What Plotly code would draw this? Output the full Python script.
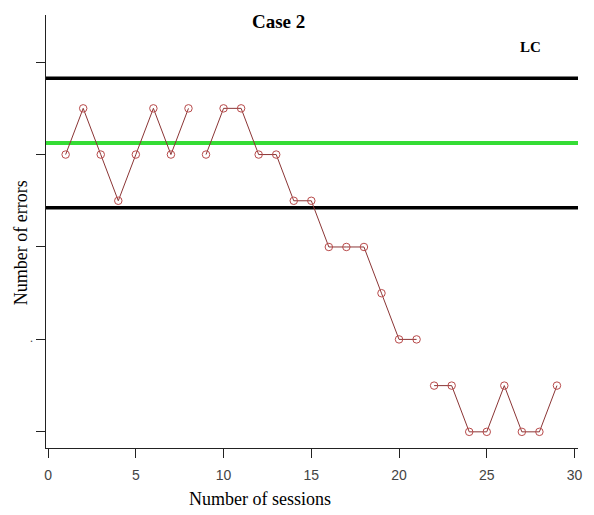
import plotly.graph_objects as go

# Data (None breaks the line between phases)
sessions = [1, 2, 3, 4, 5, 6, 7, 8, None, 9, 10, 11, 12, 13, 14, 15, 16, 17, 18, 19, 20, 21, None,
            22, 23, 24, 25, 26, 27, 28, 29]
errors = [6, 7, 6, 5, 6, 7, 6, 7, None, 6, 7, 7, 6, 6, 5, 5, 4, 4, 4, 3, 2, 2, None,
          1, 1, 0, 0, 1, 0, 0, 1]
upper_limit = 7.65
center_line = 6.25
lower_limit = 4.85
x_ticks = [0, 5, 10, 15, 20, 25, 30]
y_ticks = [0, 2, 4, 6, 8]

serif = "Liberation Serif"

fig = go.Figure()
fig.add_hline(y=upper_limit, line=dict(color="black", width=3.5), layer="below")
fig.add_hline(y=center_line, line=dict(color="#35dc35", width=4), layer="below")
fig.add_hline(y=lower_limit, line=dict(color="black", width=3.5), layer="below")

fig.add_trace(go.Scatter(
    x=sessions, y=errors, mode="lines+markers",
    line=dict(color="#8b3535", width=1),
    marker=dict(symbol="circle-open", size=7.5, color="#b84a4a", line=dict(width=1)),
    connectgaps=False, showlegend=False, hoverinfo="skip"))

W, H = 594, 515
l, r, t, b = 46, 12, 15, 67

fig.update_layout(
    width=W, height=H,
    margin=dict(l=l, r=r, t=t, b=b),
    paper_bgcolor="white", plot_bgcolor="white",
    showlegend=False,
    xaxis=dict(range=[-0.12, 30.2], tickvals=x_ticks, ticktext=[str(v) for v in x_ticks],
               showgrid=False, zeroline=False, showline=True, linecolor="#222", linewidth=1,
               ticks="outside", ticklen=9, tickcolor="#222", ticklabelstandoff=5,
               tickfont=dict(family="Liberation Sans", size=14, color="#444")),
    yaxis=dict(range=[-0.35, 9.02], tickvals=y_ticks, ticktext=["", "", "", "", ""],
               showgrid=False, zeroline=False, showline=True, linecolor="#222", linewidth=1,
               ticks="outside", ticklen=9, tickcolor="#222"),
)

# annotations placed in pixel terms, converted to paper coordinates
pw, ph = W - l - r, H - t - b
def px2paper(px, py):
    return (px - l) / pw, 1 - (py - t) / ph

anns = [
    ("<b>Case 2</b>", 280, 21, 0, 19, "black"),
    ("<b>LC</b>", 534, 47, 0, 15, "black"),
    ("Number of errors", 21, 243, -90, 18, "black"),
    ("Number of sessions", 262, 499, 0, 18, "black"),
    (".", 31, 338, 0, 12, "#444"),
]
for text, px, py, ang, size, col in anns:
    ax, ay = px2paper(px, py)
    fig.add_annotation(text=text, x=ax, y=ay, xref="paper", yref="paper", showarrow=False,
                       textangle=ang, xanchor="center", yanchor="middle",
                       font=dict(family=serif, size=size, color=col))

fig.write_html("out.html")
